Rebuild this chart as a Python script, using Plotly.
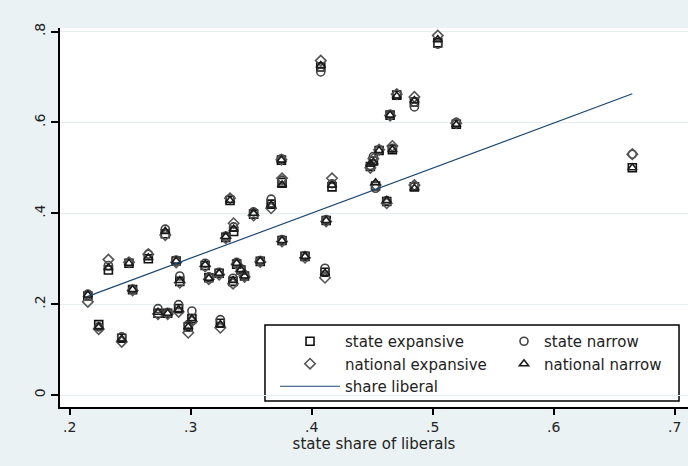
import plotly.graph_objects as go

# state share of liberals (x) and the four measures (y)
share_liberals = [0.215, 0.224, 0.232, 0.243, 0.249, 0.252, 0.265, 0.273, 0.279, 0.281,
                  0.288, 0.290, 0.291, 0.298, 0.301, 0.312, 0.315, 0.3235, 0.3245, 0.329,
                  0.3325, 0.3355, 0.335, 0.338, 0.3415, 0.3445, 0.352, 0.3575, 0.3665, 0.375,
                  0.3755, 0.3755, 0.3945, 0.4075, 0.411, 0.412, 0.4168, 0.4485, 0.451, 0.4528,
                  0.4557, 0.462, 0.4648, 0.4667, 0.4703, 0.4849, 0.4849, 0.5042, 0.5195, 0.665]
state_expansive = [0.218, 0.155, 0.275, 0.125, 0.290, 0.232, 0.300, 0.180, 0.355, 0.180,
                   0.295, 0.190, 0.250, 0.150, 0.168, 0.285, 0.258, 0.268, 0.158, 0.347,
                   0.428, 0.360, 0.250, 0.288, 0.275, 0.262, 0.398, 0.294, 0.420, 0.517,
                   0.468, 0.340, 0.305, 0.722, 0.270, 0.384, 0.458, 0.503, 0.515, 0.460,
                   0.538, 0.426, 0.616, 0.540, 0.660, 0.645, 0.458, 0.775, 0.596, 0.500]
state_narrow = [0.222, 0.150, 0.285, 0.128, 0.292, 0.233, 0.310, 0.190, 0.365, 0.182,
                0.297, 0.199, 0.262, 0.155, 0.185, 0.290, 0.260, 0.270, 0.166, 0.350,
                0.432, 0.370, 0.257, 0.292, 0.278, 0.265, 0.403, 0.296, 0.431, 0.520,
                0.473, 0.342, 0.307, 0.711, 0.279, 0.386, 0.465, 0.505, 0.525, 0.455,
                0.540, 0.428, 0.618, 0.543, 0.662, 0.634, 0.460, 0.772, 0.600, 0.530]
national_expansive = [0.205, 0.145, 0.298, 0.117, 0.292, 0.230, 0.310, 0.178, 0.352, 0.178,
                      0.292, 0.183, 0.247, 0.137, 0.162, 0.283, 0.255, 0.265, 0.148, 0.345,
                      0.433, 0.378, 0.245, 0.288, 0.272, 0.260, 0.395, 0.293, 0.411, 0.518,
                      0.477, 0.338, 0.302, 0.736, 0.258, 0.382, 0.477, 0.500, 0.520, 0.462,
                      0.540, 0.422, 0.615, 0.548, 0.662, 0.656, 0.462, 0.791, 0.598, 0.530]
national_narrow = [0.220, 0.150, 0.280, 0.123, 0.290, 0.232, 0.302, 0.182, 0.360, 0.180,
                   0.295, 0.188, 0.252, 0.150, 0.168, 0.287, 0.257, 0.268, 0.155, 0.349,
                   0.428, 0.365, 0.252, 0.290, 0.276, 0.262, 0.400, 0.295, 0.418, 0.517,
                   0.462, 0.340, 0.305, 0.725, 0.268, 0.384, 0.462, 0.508, 0.512, 0.467,
                   0.538, 0.428, 0.616, 0.540, 0.658, 0.648, 0.455, 0.782, 0.595, 0.500]

# fitted line (share liberal) at the ends of the data range
fit_x = [0.215, 0.665]
fit_y = [0.217, 0.663]

x_ticks = [0.2, 0.3, 0.4, 0.5, 0.6, 0.7]
x_tick_labels = [".2", ".3", ".4", ".5", ".6", ".7"]
y_ticks = [0, 0.2, 0.4, 0.6, 0.8]
y_tick_labels = ["0", ".2", ".4", ".6", ".8"]

FONT = "DejaVu Sans"
fig = go.Figure()

# (name, values, symbol, colour, legend column)
series = [
    ("state expansive", state_expansive, "square-open", "#111111", "legend"),
    ("state narrow", state_narrow, "circle-open", "#444444", "legend2"),
    ("national expansive", national_expansive, "diamond-open", "#555555", "legend"),
    ("national narrow", national_narrow, "triangle-up-open", "#1a1a1a", "legend2"),
]
for name, ys, sym, col, lg in series:
    fig.add_trace(go.Scatter(
        x=share_liberals, y=ys, mode="markers", name=name, legend=lg,
        marker=dict(symbol=sym, size=8, color=col, line=dict(width=1.6, color=col)),
    ))

fig.add_trace(go.Scatter(
    x=fit_x, y=fit_y, mode="lines", name="share liberal", legend="legend",
    line=dict(color="#1a476f", width=1.2),
))

legend_common = dict(
    orientation="v", yanchor="top", xanchor="left", y=0.2164,
    bgcolor="rgba(0,0,0,0)", borderwidth=0,
    font=dict(family=FONT, size=15, color="#222"),
    tracegroupgap=0,
)

fig.update_layout(
    width=688, height=466,
    margin=dict(l=60, r=0, t=28, b=59, autoexpand=False),
    paper_bgcolor="#eaf2f3",
    plot_bgcolor="white",
    font=dict(family=FONT, size=13, color="#222"),
    showlegend=True,
    legend=dict(x=0.3424, itemwidth=60, **legend_common),
    legend2=dict(x=0.707, **legend_common),
    shapes=[dict(
        type="rect", xref="paper", yref="paper",
        x0=0.3264, x1=0.9857, y0=0.0158, y1=0.2164,
        fillcolor="white", line=dict(color="black", width=1.5), layer="below",
    )],
)

fig.update_xaxes(
    range=[0.192, 0.711], tickvals=x_ticks, ticktext=x_tick_labels,
    showgrid=False, zeroline=False,
    showline=True, linecolor="black", linewidth=1.5,
    ticks="outside", ticklen=6, tickwidth=1.5, tickcolor="black",
    tickfont=dict(family=FONT, size=14, color="#222"),
    title=dict(text="state share of liberals", font=dict(family=FONT, size=15, color="#222"), standoff=0),
)
fig.update_yaxes(
    range=[-0.0264, 0.8077], tickvals=y_ticks, ticktext=y_tick_labels,
    showgrid=True, gridcolor="#e4eef0", gridwidth=1, zeroline=False,
    showline=True, linecolor="black", linewidth=1.5,
    ticks="outside", ticklen=7, tickwidth=1.5, tickcolor="black",
    tickangle=-90, ticklabelstandoff=1,
    tickfont=dict(family=FONT, size=14, color="#222"),
)

fig.write_html("out.html", config={"displayModeBar": False},
               post_script="document.body.style.margin='0';")
